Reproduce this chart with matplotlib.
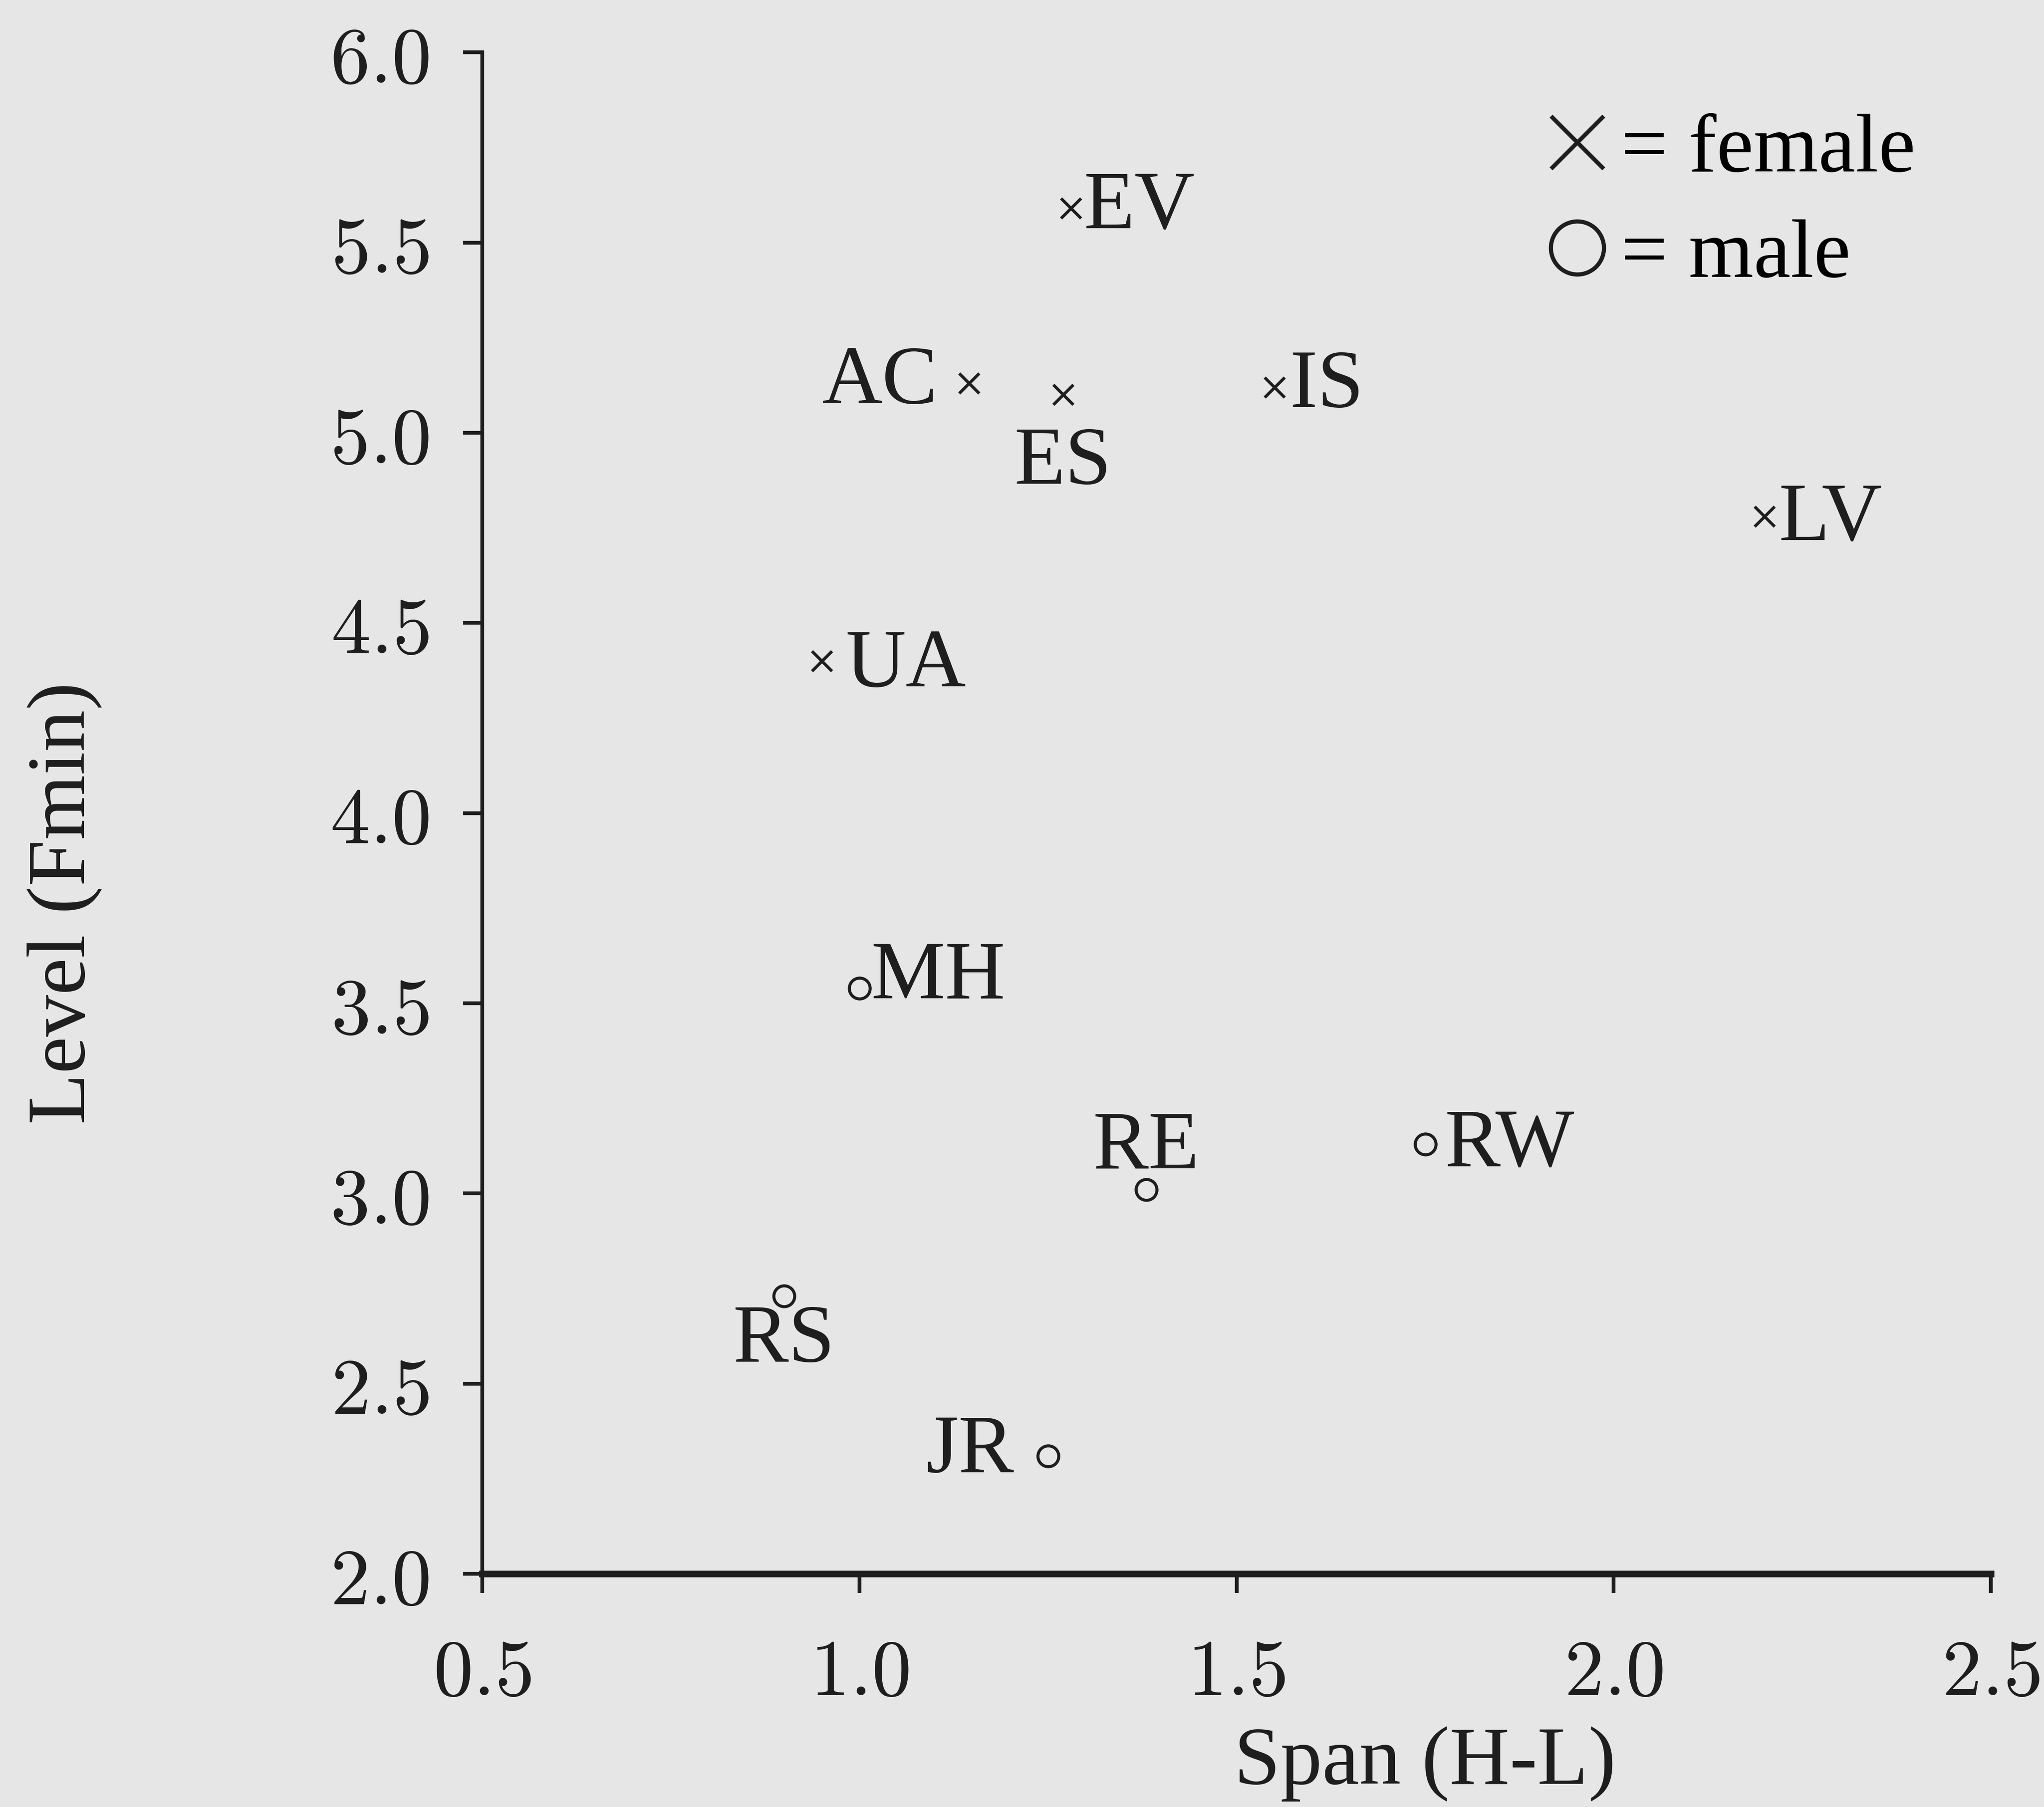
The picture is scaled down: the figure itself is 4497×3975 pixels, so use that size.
import matplotlib
matplotlib.use("Agg")
import matplotlib.pyplot as plt
from matplotlib.lines import Line2D

# Span (H-L) vs Level (Fmin) per speaker
female_names = ["EV", "AC", "ES", "IS", "LV", "UA"]
female_span = [1.28, 1.145, 1.27, 1.55, 2.20, 0.95]
female_level = [5.59, 5.13, 5.10, 5.12, 4.78, 4.40]

male_names = ["MH", "RE", "RW", "RS", "JR"]
male_span = [1.00, 1.38, 1.75, 0.90, 1.25]
male_level = [3.54, 3.01, 3.13, 2.73, 2.31]

x_ticks = [0.5, 1.0, 1.5, 2.0, 2.5]
y_ticks = [2.0, 2.5, 3.0, 3.5, 4.0, 4.5, 5.0, 5.5, 6.0]

# where each label sits relative to its point (offset points, ha, va)
label_pos = {
    "EV": (7.0, 0, "left", "center"),
    "AC": (-16.5, 0, "right", "center"),
    "ES": (0, -36.5, "center", "center"),
    "IS": (8.0, 0, "left", "center"),
    "LV": (7.6, -2, "left", "center"),
    "UA": (12.4, -3, "left", "center"),
    "MH": (6.2, 5, "left", "center"),
    "RE": (0, 22, "center", "center"),
    "RW": (10.3, -1, "left", "center"),
    "RS": (0, -24, "center", "center"),
    "JR": (-18, 2, "right", "center"),
}

bg = "#e6e6e6"
ink = "#1e1e1e"
plt.rcParams["mathtext.fontset"] = "cm"
serif = ["Liberation Serif", "DejaVu Serif"]

fig = plt.figure(figsize=(4497 / 300, 3975 / 300), dpi=300, facecolor=bg)
ax = fig.add_axes([0.236, 0.129, 0.738, 0.842], facecolor=bg)

ax.plot(female_span, female_level, linestyle="none", marker="x",
        markersize=10.5, markeredgewidth=1.6, color=ink)
ax.plot(male_span, male_level, linestyle="none", marker="o",
        markersize=11, markeredgewidth=1.6, markerfacecolor="none", color=ink)

for names, xs, ys in [(female_names, female_span, female_level),
                      (male_names, male_span, male_level)]:
    for name, x, y in zip(names, xs, ys):
        dx, dy, ha, va = label_pos[name]
        ax.annotate(name, (x, y), xytext=(dx, dy), textcoords="offset points",
                    ha=ha, va=va, fontsize=44, family=serif, color=ink)

ax.set_xlim(0.5, 2.5)
ax.set_ylim(2.0, 6.0)
ax.set_xticks(x_ticks)
ax.set_yticks(y_ticks)
ax.set_xticklabels([f"${t:.1f}$" for t in x_ticks])
ax.set_yticklabels([f"${t:.1f}$" for t in y_ticks])
ax.tick_params(axis="both", direction="out", length=10, width=2, colors=ink,
               labelsize=42)
ax.tick_params(axis="x", pad=22)
ax.tick_params(axis="y", pad=18)

for side in ["top", "right"]:
    ax.spines[side].set_visible(False)
ax.spines["left"].set_linewidth(2)
ax.spines["bottom"].set_linewidth(3.5)
ax.spines["left"].set_color(ink)
ax.spines["bottom"].set_color(ink)

ax.set_xlabel("Span (H-L)", fontsize=44, family=serif, color=ink)
ax.xaxis.set_label_coords(0.625, -0.100)
ax.set_ylabel("Level (Fmin)", fontsize=44, family=serif, color=ink)
ax.yaxis.set_label_coords(-0.252, 0.441)

handles = [
    Line2D([], [], linestyle="none", marker="x", markersize=28,
           markeredgewidth=2.2, color=ink, label="= female"),
    Line2D([], [], linestyle="none", marker="o", markersize=28,
           markeredgewidth=2.2, markerfacecolor="none", color=ink, label="= male"),
]
ax.legend(handles=handles, loc="upper right", bbox_to_anchor=(0.972, 0.982),
          frameon=False, prop={"family": serif, "size": 44},
          handlelength=0.8, handletextpad=0.12, labelspacing=0.35,
          borderaxespad=0)

fig.savefig("out.png", dpi=300, facecolor=bg)
